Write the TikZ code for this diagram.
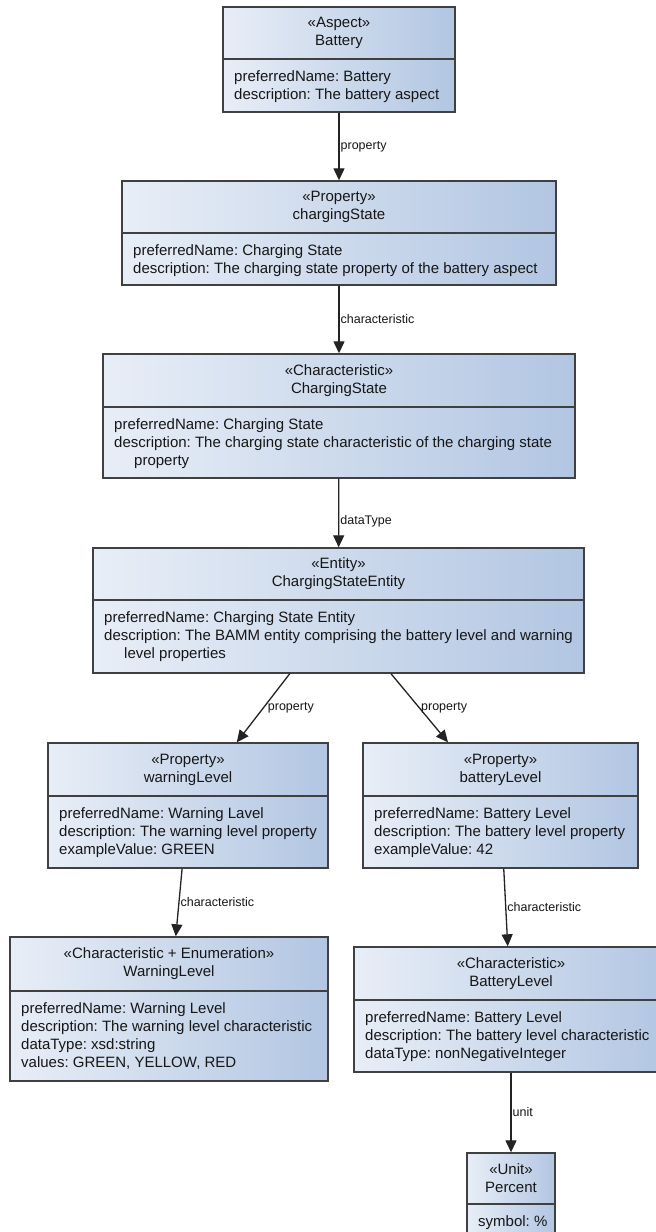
\documentclass[tikz,border=0pt]{standalone}
\usepackage{fontspec}
\setmainfont{Liberation Sans}
\usetikzlibrary{arrows.meta,fit}
\frenchspacing

\definecolor{boxleft}{RGB}{232,238,247}
\definecolor{boxright}{RGB}{178,198,226}
\definecolor{boxedge}{RGB}{64,64,64}
\definecolor{inktext}{RGB}{22,22,22}
\definecolor{linkink}{RGB}{35,35,35}

\tikzset{
  umlframe/.style={draw=boxedge, line width=1.4pt, inner sep=0pt,
    left color=boxleft, right color=boxright},
  umldiv/.style={draw=boxedge, line width=1.4pt},
  umlhead/.style={align=center, inner sep=0pt, text=inktext,
    font=\fontsize{15}{18}\selectfont},
  umlbody/.style={align=left, anchor=north west, inner sep=0pt, text=inktext,
    font=\fontsize{15}{18}\selectfont},
  link/.style={draw=linkink, line width=1.3pt,
    -{Triangle[length=12pt,width=11pt]}},
  linklabel/.style={anchor=west, inner sep=1pt, text=inktext,
    font=\fontsize{12.5}{14}\selectfont}
}

% name, left, top, right, bottom, divider, header, body
\newcommand\umlbox[8]{%
  \node[umlframe, fit={(#2,#3) (#4,#5)}] (#1) {};
  \draw[umldiv] (#2,#6) -- (#4,#6);
  \node[umlhead] at ({(#2+#4)/2},{(#3+#6)/2}) {#7};
  \node[umlbody] at ({#2+11},{#6+11.5}) {#8};
}

\begin{document}
\begin{tikzpicture}[x=1pt,y=-1pt]
\useasboundingbox (0,0) rectangle (656,1232);
\clip (0,0) rectangle (656,1232);
\fill[white] (0,0) rectangle (656,1232);

\umlbox{aspect}{223}{7}{455}{112}{59}
  {«Aspect»\\Battery}
  {preferredName: Battery\\description: The battery aspect}

\umlbox{chargingprop}{122}{181}{556}{285}{233}
  {«Property»\\chargingState}
  {preferredName: Charging State\\description: The charging state property of the battery aspect}

\umlbox{chargingchar}{103}{354}{575}{478}{407}
  {«Characteristic»\\ChargingState}
  {preferredName: Charging State\\description: The charging state characteristic of the charging state\\\hspace*{20pt}property}

\umlbox{entity}{93}{548}{584}{673}{600}
  {«Entity»\\ChargingStateEntity}
  {preferredName: Charging State Entity\\description: The BAMM entity comprising the battery level and warning\\\hspace*{20pt}level properties}

\umlbox{warnprop}{48}{743}{328}{868}{796}
  {«Property»\\warningLevel}
  {preferredName: Warning Lavel\\description: The warning level property\\exampleValue: GREEN}

\umlbox{battprop}{363}{743}{638}{868}{796}
  {«Property»\\batteryLevel}
  {preferredName: Battery Level\\description: The battery level property\\exampleValue: 42}

\umlbox{warnchar}{10}{937}{328}{1081}{991}
  {«Characteristic + Enumeration»\\WarningLevel}
  {preferredName: Warning Level\\description: The warning level characteristic\\dataType: xsd:string\\values: GREEN, YELLOW, RED}

\umlbox{battchar}{354}{947}{668}{1072}{1000}
  {«Characteristic»\\BatteryLevel}
  {preferredName: Battery Level\\description: The battery level characteristic\\dataType: nonNegativeInteger}

\umlbox{percent}{467}{1153}{555}{1240}{1204}
  {«Unit»\\Percent}
  {symbol: \%}

\draw[link] (aspect) -- node[linklabel]{property} (chargingprop);
\draw[link] (chargingprop) -- node[linklabel]{characteristic} (chargingchar);
\draw[link] (chargingchar) -- node[linklabel, pos=0.62]{dataType} (entity);
\draw[link] (entity) -- node[linklabel, xshift=3pt]{property} (warnprop);
\draw[link] (entity) -- node[linklabel]{property} (battprop);
\draw[link] (warnprop) -- node[linklabel]{characteristic} (warnchar);
\draw[link] (battprop) -- node[linklabel]{characteristic} (battchar);
\draw[link] (battchar) -- node[linklabel]{unit} (percent);
\end{tikzpicture}
\end{document}
